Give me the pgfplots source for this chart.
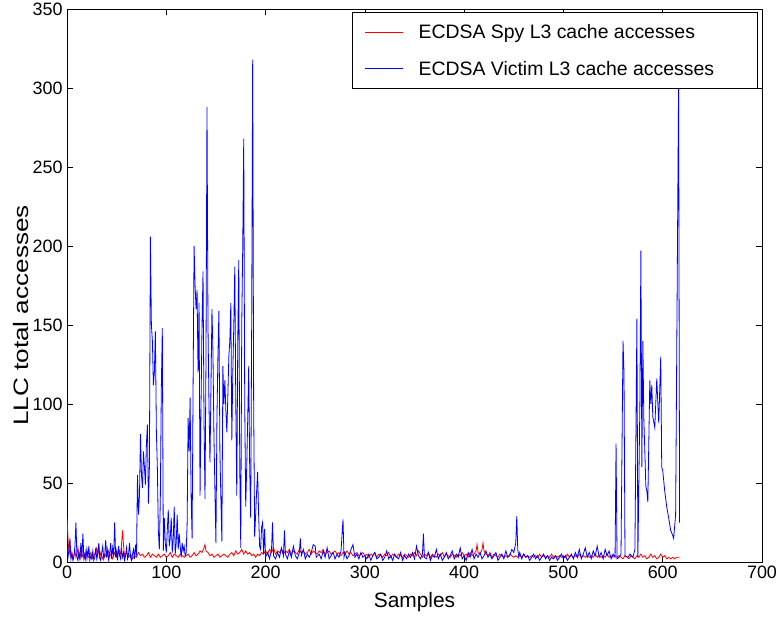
\documentclass[border=0pt]{standalone}
\usepackage{fontspec}
\setmainfont{Liberation Sans}
\usepackage{pgfplots}
\pgfplotsset{compat=1.18}
\begin{document}
\begin{tikzpicture}
\begin{axis}[
  scale only axis, width=695bp, height=553bp,
  xmin=0, xmax=700, ymin=0, ymax=350,
  xtick={0,100,...,700}, ytick={0,50,...,350},
  tick align=inside, major tick length=6bp,
  /pgf/number format/assume math mode=true,
  tick label style={font=\fontsize{18}{20}\selectfont},
  yticklabel style={xshift=-1bp},
  xlabel={Samples}, ylabel={LLC total accesses},
  xlabel style={font=\fontsize{21}{24}\selectfont, at={([yshift=-40bp]axis description cs:0.5,0)}, anchor=center},
  ylabel style={font=\fontsize{21}{24}\selectfont, at={([xshift=-46bp,yshift=-30bp]axis description cs:0,0.5)}, anchor=center, xscale=1.25},
  axis line style={line width=0.8bp},
  every tick/.style={line width=0.6bp, black},
  legend cell align=left,
  legend style={at={(rel axis cs:0.9942,0.9946)}, anchor=north east, draw=black, line width=0.8bp,
    font=\fontsize{19.5}{22}\selectfont, row sep=17bp, inner xsep=12bp, inner ysep=10bp},
  legend image code/.code={\draw[mark repeat=2,mark phase=2,#1] plot coordinates {(0bp,0bp) (19bp,0bp) (38bp,0bp)};},
]
\coordinate (sw) at (rel axis cs:0,0);
\coordinate (ne) at (rel axis cs:1,1);
\addplot[red, line width=0.8bp] coordinates {
(0,28)(1,15)(2,5)(3,8)(4,3)(5,6)(6,2)(7,4)(8,7)(9,3)(10,5)(11,9)(12,4)(13,2)(14,6)(15,3)(16,5)(18,2)(19,7)(20,4)(22,3)(24,6)(26,2)(28,5)(30,9)(31,4)(32,10)(33,3)(34,6)(36,2)(38,5)(40,3)(42,7)(44,4)(46,2)(48,6)(50,3)(52,8)(54,5)(55,12)(56,20)(57,10)(58,4)(60,6)(62,3)(64,5)(66,2)(68,4)(70,3)(72,6)(74,4)(76,5)(78,3)(80,4)(82,6)(84,3)(86,5)(88,4)(90,3)(92,5)(94,3)(96,4)(98,5)(100,3)(102,4)(104,6)(106,3)(108,5)(110,4)(112,3)(114,5)(116,4)(118,3)(120,4)(122,5)(124,3)(126,4)(128,6)(130,4)(132,5)(134,7)(136,6)(138,9)(139,11)(140,7)(142,6)(144,4)(146,5)(148,3)(150,4)(152,5)(154,3)(156,4)(158,5)(160,4)(162,3)(164,5)(166,6)(168,4)(170,7)(172,5)(174,6)(176,8)(178,5)(180,7)(182,5)(184,6)(186,4)(188,5)(190,3)(192,5)(194,4)(196,6)(198,5)(200,7)(202,5)(204,8)(206,6)(208,9)(210,5)(212,7)(214,6)(216,8)(218,5)(220,7)(222,6)(224,8)(226,5)(228,7)(230,6)(232,5)(234,8)(236,6)(238,7)(240,5)(242,6)(244,8)(246,5)(248,7)(250,6)(252,5)(254,7)(256,6)(258,8)(260,5)(262,6)(264,7)(266,5)(268,6)(270,7)(272,5)(274,6)(276,4)(278,6)(280,5)(282,7)(284,5)(286,6)(288,4)(290,5)(292,6)(294,4)(296,5)(298,6)(300,4)(302,5)(304,3)(306,5)(308,4)(310,6)(312,3)(314,5)(316,4)(318,3)(320,5)(322,4)(324,6)(326,3)(328,5)(330,4)(332,3)(334,5)(336,4)(338,3)(340,5)(342,4)(344,3)(346,5)(348,4)(350,6)(352,4)(354,7)(356,5)(358,3)(360,5)(362,4)(364,6)(366,3)(368,5)(370,4)(372,3)(374,5)(376,4)(378,6)(380,3)(382,5)(384,4)(386,3)(388,5)(390,4)(392,3)(394,5)(396,4)(398,6)(400,4)(402,5)(404,3)(406,6)(408,4)(410,5)(412,7)(413,11)(414,6)(416,5)(418,8)(419,12)(420,7)(422,5)(424,4)(426,6)(428,3)(430,5)(432,4)(434,3)(436,5)(438,4)(440,3)(442,4)(444,3)(446,5)(448,4)(450,3)(452,4)(454,3)(456,4)(458,3)(460,5)(462,3)(464,4)(466,3)(468,4)(470,3)(472,4)(474,3)(476,5)(478,3)(480,4)(482,3)(484,4)(486,3)(488,5)(490,3)(492,4)(494,3)(496,4)(498,3)(500,4)(502,3)(504,5)(506,3)(508,4)(510,3)(512,4)(514,3)(516,5)(518,3)(520,4)(522,3)(524,4)(526,3)(528,4)(530,3)(532,5)(534,3)(536,4)(538,3)(540,4)(542,3)(544,5)(546,3)(548,4)(550,3)(552,4)(554,3)(556,4)(558,3)(560,2)(562,4)(564,3)(566,2)(568,4)(570,3)(572,2)(574,4)(576,3)(578,5)(580,3)(582,4)(584,2)(586,3)(588,5)(590,3)(592,4)(594,2)(596,3)(598,5)(600,3)(602,4)(604,2)(606,3)(608,2)(610,3)(612,2)(614,3)(617,3)
};
\addlegendentry{\makebox[338bp][l]{\hspace{13bp}ECDSA Spy L3 cache accesses}}
\addplot[blue, line width=0.8bp] coordinates {
(0,10)(1,3)(2,8)(3,15)(4,2)(5,5)(6,1)(7,4)(8,10)(9,25)(10,3)(11,1)(12,6)(13,2)(14,12)(15,3)(16,18)(17,2)(18,5)(19,1)(20,8)(21,3)(22,10)(23,1)(24,4)(25,2)(26,7)(27,1)(28,3)(29,9)(30,2)(31,5)(32,12)(33,3)(34,1)(35,6)(36,10)(37,2)(38,4)(39,14)(40,3)(41,8)(42,1)(43,5)(44,12)(45,2)(46,9)(47,4)(48,25)(49,3)(50,7)(51,1)(52,10)(53,4)(54,2)(55,8)(56,3)(57,6)(58,1)(59,4)(60,9)(61,2)(62,5)(63,12)(64,3)(65,1)(66,5)(67,8)(68,2)(69,11)(70,4)
(71,55)(72,30)(73,42)(74,81)(75,55)(76,47)(77,70)(78,60)(79,49)(80,75)(81,87)(82,37)(83,60)(84,206)(85,150)(86,140)(87,112)(88,120)(89,146)(90,83)(91,60)(92,20)(93,8)(94,40)(95,110)(96,148)(97,7)(98,28)(99,12)(100,6)(101,20)(102,33)(103,10)(104,15)(105,28)(106,6)(107,14)(108,35)(109,5)(110,12)(111,30)(112,8)(113,18)(114,10)(115,3)(116,12)(117,7)(118,10)(119,4)(120,6)(121,24)
(122,91)(123,70)(124,104)(125,42)(126,15)(127,112)(128,200)(129,175)(130,160)(131,172)(132,120)(133,164)(134,42)(135,100)(136,150)(137,184)(138,90)(139,40)(140,130)(141,288)(142,150)(143,100)(144,63)(145,110)(146,160)(147,133)(148,80)(149,45)(150,12)(151,90)(152,130)(153,159)(154,70)(155,40)(156,13)(157,124)(158,100)(159,115)(160,96)(161,82)(162,105)(163,130)(164,140)(165,164)(166,77)(167,120)(168,150)(169,187)(170,100)(171,42)(172,140)(173,191)(174,60)(175,9)(176,150)(177,200)(178,268)(179,100)(180,35)(181,60)(182,90)(183,124)(184,60)(185,28)(186,150)(187,318)(188,100)(189,16)(190,30)(191,45)(192,57)(193,30)(194,10)(195,8)(196,22)(197,25)(198,5)(199,21)
(200,3)(202,6)(204,2)(206,8)(207,25)(208,4)(210,2)(212,6)(214,3)(216,9)(218,4)(219,20)(220,5)(222,2)(224,7)(226,3)(228,10)(230,4)(232,2)(234,6)(235,15)(236,4)(238,8)(240,2)(242,5)(244,3)(246,6)(248,11)(250,10)(251,3)(254,5)(256,2)(258,7)(260,3)(262,9)(264,2)(266,4)(268,6)(270,2)(272,5)(274,3)(276,7)(278,27)(279,3)(280,6)(282,2)(284,4)(286,8)(288,11)(290,3)(292,5)(294,2)(296,6)(298,3)(300,4)(302,2)(304,5)(306,1)(308,4)(310,6)(312,2)(314,3)(316,5)(318,1)(320,3)(322,7)(324,2)(326,4)(328,1)(330,5)(332,3)(334,2)(336,6)(338,1)(340,4)(342,2)(344,5)(346,3)(348,6)(350,2)(352,10)(354,4)(356,2)(358,5)(359,18)(360,3)(362,2)(364,6)(366,1)(368,4)(370,3)(372,8)(374,2)(376,5)(378,1)(380,3)(382,6)(384,2)(386,4)(388,7)(390,2)(392,5)(394,3)(396,9)(398,2)(400,4)(402,1)(404,6)(406,3)(408,8)(410,2)(412,5)(414,3)(416,6)(418,2)(420,4)(422,7)(424,3)(426,5)(428,2)(430,4)(432,6)(434,1)(436,3)(438,5)(440,2)(442,7)(444,3)(446,4)(448,8)(450,6)(452,12)(453,29)(454,8)(455,3)(456,6)(458,2)(460,5)(462,3)(464,4)(466,1)(468,3)(470,5)(472,2)(474,4)(476,1)(478,3)(480,5)(482,2)(484,4)(486,1)(488,3)(490,2)(492,4)(494,1)(496,3)(498,5)(500,2)(502,4)(504,1)(506,3)(508,5)(510,2)(512,6)(514,3)(516,8)(518,2)(520,5)(522,9)(524,3)(526,6)(528,2)(530,7)(532,4)(534,10)(536,3)(538,6)(540,2)(542,8)(544,4)(546,7)(548,2)(550,5)
(552,3)(553,75)(554,2)(556,3)(558,5)(560,140)(561,120)(562,4)(565,3)(567,5)(570,3)(572,8)(574,154)(575,3)(577,100)(578,197)(579,60)(580,140)(581,90)(582,70)(583,48)(584,45)(585,38)(587,115)(588,100)(589,112)(590,92)(592,85)(594,116)(596,88)(598,130)(599,60)(600,58)(602,45)(604,35)(606,28)(608,20)(610,17)(611,15)(613,30)(616,305)(617,25)
};
\addlegendentry{\makebox[338bp][l]{\hspace{13bp}ECDSA Victim L3 cache accesses}}
\end{axis}
\pgfresetboundingbox
\path ([shift={(-67bp,-54bp)}]sw) rectangle ([shift={(15bp,9bp)}]ne);
\end{tikzpicture}
\end{document}
